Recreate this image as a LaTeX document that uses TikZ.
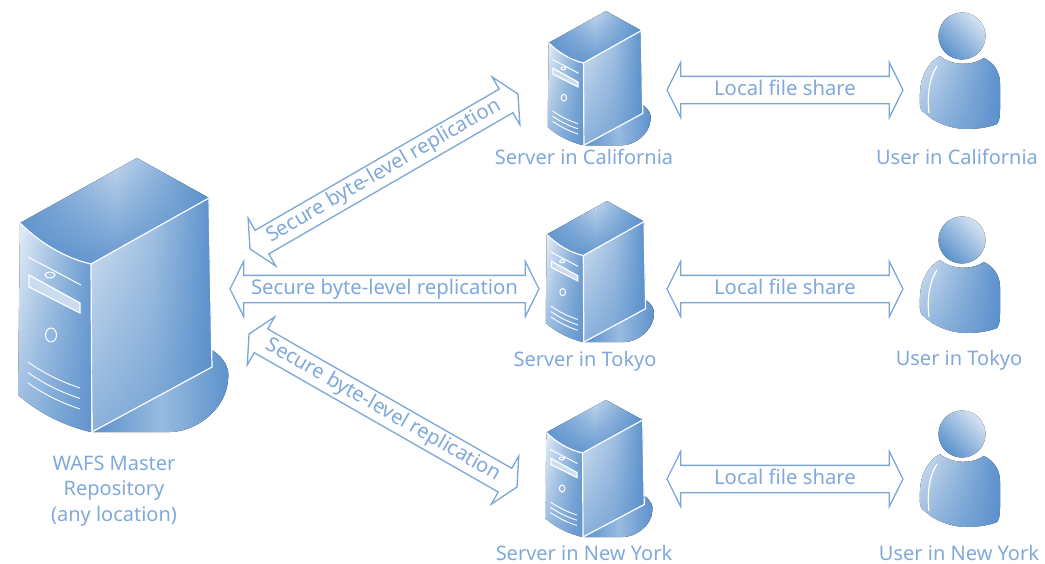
\documentclass[tikz,border=0pt]{standalone}
\usepackage{fontspec}
\setmainfont{Noto Sans}
\usetikzlibrary{calc, fadings, shapes.arrows}

\definecolor{srvDark}{HTML}{5B91CC}
\definecolor{srvMid}{HTML}{A8C5E4}
\definecolor{srvLight}{HTML}{D5E3F2}
\definecolor{srvPale}{HTML}{E8F0F9}
\definecolor{lineBlue}{HTML}{7BA7D8}
\definecolor{txtBlue}{HTML}{80A9DA}

\tikzset{
    label text/.style={text=txtBlue, font=\fontsize{20}{25.5}\selectfont, inner sep=0pt, anchor=base},
    linkbox/.style={draw=lineBlue, line width=1.3pt, fill=white, text=txtBlue, double arrow,
        double arrow tip angle=127, double arrow head extend=14pt, font=\fontsize{20.3}{25.5}\selectfont,
        text height=14pt, text depth=4pt, inner xsep=0pt, inner ysep=4pt, outer sep=0pt},
    edge white/.style={draw=white, line width=1.2pt},
    server/.pic={
        \begin{scope}[shift={(-137,-158)}]
            \fill[left color=srvDark, right color=srvDark, middle color=srvMid!80!srvDark]
                (212,350) .. controls (225,358) and (230,370) .. (228,380)
                .. controls (226,410) and (195,432) .. (170,432) -- (93,432) -- (212,367) -- cycle;
            \fill[left color=srvPale, right color=srvDark!90!white, middle color=srvMid]
                (20,223) .. controls (40,243) and (65,258) .. (91,264) -- (91,432)
                .. controls (65,426) and (40,414) .. (18,395) -- cycle;
            \fill[srvDark, opacity=.6, path fading=north]
                (20,223) .. controls (40,243) and (65,258) .. (91,264) -- (91,432)
                .. controls (65,426) and (40,414) .. (18,395) -- cycle;
            \fill[left color=srvLight, right color=srvDark, middle color=srvMid]
                (91,264) -- (209,198) -- (212,367) -- (93,432) -- cycle;
            \fill[srvDark, opacity=.6, path fading=north]
                (91,264) -- (209,198) -- (212,367) -- (93,432) -- cycle;
            \fill[left color=srvDark!90!white, right color=srvDark, middle color=srvLight!85!srvDark]
                (20,223) -- (137,158) -- (209,198) -- (91,264) .. controls (65,258) and (40,243) .. (20,223) -- cycle;
            \fill[srvDark, opacity=.9, path fading=north]
                (20,223) -- (137,158) -- (209,198) -- (91,264) .. controls (65,258) and (40,243) .. (20,223) -- cycle;
            \draw[edge white] (20,223) .. controls (40,243) and (65,258) .. (91,264) -- (209,198);
            \draw[edge white] (91,264) -- (92,432) -- (212,367) -- (209,198);
            \draw[edge white, line width=1pt] (28,257) -- (81,285);
            \draw[edge white, line width=1pt, fill=srvMid] (50,275) ellipse (5 and 3);
            \draw[edge white, fill=srvMid!60!white] (29,275) -- (80,303) -- (80,313) -- (29,287) -- cycle;
            \draw[edge white, line width=1pt] (51,335) ellipse (5.5 and 7);
            \foreach \y in {0,10.5,21} {
                \draw[edge white, line width=.9pt] (28,362+\y) .. controls (45,374+\y) and (62,382+\y) .. (80,388+\y);
            }
        \end{scope}
    },
    person/.pic={
        \fill[left color=srvLight, right color=srvDark]
            (-22,20) .. controls (-34,26) and (-42,42) .. (-42,57) .. controls (-43,66) and (-42,72) .. (-40,75)
            -- (-30,83) .. controls (-18,90) and (-6,93) .. (5,93) .. controls (16,93) and (28,91) .. (35,88)
            .. controls (38,84) and (38,78) .. (38,73) -- (38,47) .. controls (38,36) and (32,27) .. (22,22)
            .. controls (10,30) and (-10,30) .. (-22,20) -- cycle;
        \fill[srvDark, opacity=.5, path fading=north]
            (-22,20) .. controls (-34,26) and (-42,42) .. (-42,57) .. controls (-43,66) and (-42,72) .. (-40,75)
            -- (-30,83) .. controls (-18,90) and (-6,93) .. (5,93) .. controls (16,93) and (28,91) .. (35,88)
            .. controls (38,84) and (38,78) .. (38,73) -- (38,47) .. controls (38,36) and (32,27) .. (22,22)
            .. controls (10,30) and (-10,30) .. (-22,20) -- cycle;
        \draw[edge white] (-25,30) .. controls (-33,42) and (-35,60) .. (-33,77);
        \fill[white] (0,0) circle (24.5);
        \fill[left color=srvLight, right color=srvDark, shading angle=-45] (0,0) circle (23.5);
    }
}

\newcommand{\linkarrow}[3]{
    \path let \p1=($(#2)-(#1)$), \n1={veclen(\x1,\y1)} in
        (#1) -- (#2) node[midway, sloped, linkbox, minimum height=\n1] (#1#2) {#3};
}

\begin{document}
\begin{tikzpicture}[x=1pt, y=-1pt]
    \useasboundingbox (0,0) rectangle (1045,563);

    \pic at (137,158) {server};
    \pic[xscale=.49, yscale=.49] at (606,11) {server};
    \pic[xscale=.515, yscale=.515] at (607,201) {server};
    \pic[xscale=.51, yscale=.5] at (606,400) {server};

    \pic at (962,36) {person};
    \pic at (962,240) {person};
    \pic at (962,434) {person};

    \node[label text, anchor=center, align=center] (master) at (114,491) {WAFS Master\\Repository\\(any location)};
    \node[label text] (srvCal) at (584,164) {Server in California};
    \node[label text] (srvTok) at (585,366) {Server in Tokyo};
    \node[label text] (srvNY) at (584,560) {Server in New York};
    \node[label text] (usrCal) at (957,164) {User in California};
    \node[label text] (usrTok) at (959,365) {User in Tokyo};
    \node[label text] (usrNY) at (959,560) {User in New York};

    \coordinate (mA) at (250,249);
    \coordinate (cA) at (518,94);
    \coordinate (mB) at (230,289);
    \coordinate (tB) at (539,289);
    \coordinate (mC) at (249,334);
    \coordinate (nC) at (517,487);
    \foreach \a/\y in {cL/90, tL/289, nL/479} {
        \coordinate (\a) at (667,\y);
        \coordinate (u\a) at (903,\y);
    }

    \linkarrow{mA}{cA}{Secure byte-level replication}
    \linkarrow{mB}{tB}{Secure byte-level replication}
    \linkarrow{mC}{nC}{Secure byte-level replication}
    \linkarrow{cL}{ucL}{Local file share}
    \linkarrow{tL}{utL}{Local file share}
    \linkarrow{nL}{unL}{Local file share}
\end{tikzpicture}
\end{document}
